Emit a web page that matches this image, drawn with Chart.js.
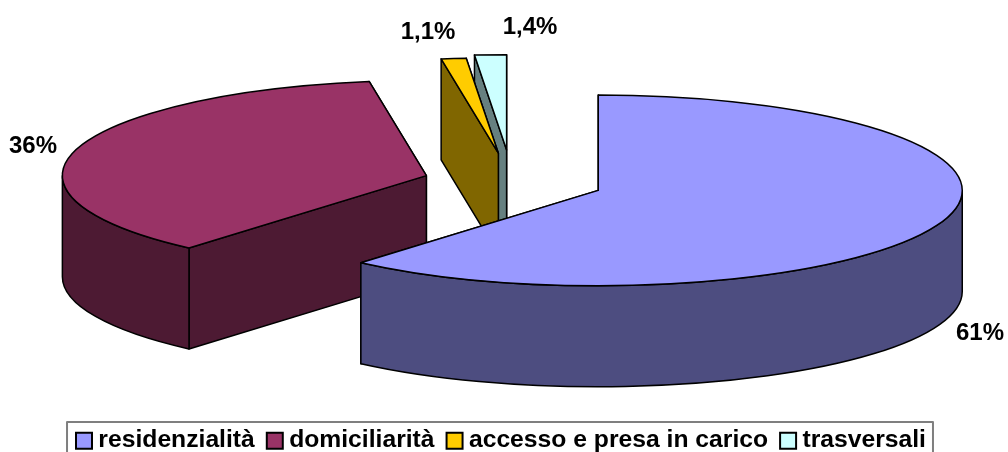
<!DOCTYPE html>
<html>
<head>
<meta charset="utf-8">
<style>
  html, body { margin: 0; padding: 0; background: #fff; }
  #wrap { width: 1008px; height: 452px; position: relative; overflow: hidden; }
  canvas { display: block; }
</style>
<script src="https://cdn.jsdelivr.net/npm/chart.js@4"></script>
</head>
<body>
<div id="wrap"><canvas id="pie" width="1008" height="452"></canvas></div>
<script>
// Distribution of the service areas
const categories = ['residenzialità', 'domiciliarità', 'accesso e presa in carico', 'trasversali'];
const shares = [61, 36, 1.1, 1.4];
const shareLabels = ['61%', '36%', '1,1%', '1,4%'];

const faceColors = ['#9999FF', '#993366', '#FFCC00', '#CCFFFF'];
const wallColors = ['#4D4D80', '#4D1A33', '#806600', '#668080'];

// Extruded-pie projection
const RADIUS = 364;
const SQUASH = 0.262;
const DEPTH = 101;
const CENTER = { x: 512, y: 182 };
const explode = [92, 89, 111, 122];
const paintOrder = [1, 3, 2, 0];
const OUTLINE = 1.5;
const labelAnchors = [[980, 333], [33, 146], [428, 32], [530, 27]];
const FONT = 'bold 24px "Liberation Sans", Arial, sans-serif';

function sliceOrigin(arc, i) {
  const mid = (arc.startAngle + arc.endAngle) / 2;
  return {
    x: CENTER.x + Math.cos(mid) * explode[i],
    y: CENTER.y + Math.sin(mid) * explode[i] * SQUASH
  };
}

function paintPath(ctx, fill) {
  ctx.fillStyle = fill;
  ctx.fill();
  ctx.lineWidth = OUTLINE;
  ctx.strokeStyle = '#000';
  ctx.lineJoin = 'round';
  ctx.stroke();
}

function cutWall(ctx, o, angle, r, color) {
  const px = o.x + Math.cos(angle) * r;
  const py = o.y + Math.sin(angle) * r * SQUASH;
  ctx.beginPath();
  ctx.moveTo(o.x, o.y);
  ctx.lineTo(px, py);
  ctx.lineTo(px, py + DEPTH);
  ctx.lineTo(o.x, o.y + DEPTH);
  ctx.closePath();
  paintPath(ctx, color);
}

function rimWall(ctx, o, start, end, r, color) {
  const lo = Math.max(start, 0);
  const hi = Math.min(end, Math.PI);
  if (hi <= lo) return;
  ctx.beginPath();
  ctx.ellipse(o.x, o.y, r, r * SQUASH, 0, lo, hi);
  ctx.ellipse(o.x, o.y + DEPTH, r, r * SQUASH, 0, hi, lo, true);
  ctx.closePath();
  paintPath(ctx, color);
}

const extrudedPie = {
  id: 'extrudedPie',
  beforeDatasetsDraw(chart) {
    const ctx = chart.ctx;
    const arcs = chart.getDatasetMeta(0).data;
    paintOrder.forEach(i => {
      const arc = arcs[i];
      const r = arc.outerRadius;
      const o = sliceOrigin(arc, i);
      cutWall(ctx, o, arc.endAngle, r, wallColors[i]);
      cutWall(ctx, o, arc.startAngle, r, wallColors[i]);
      rimWall(ctx, o, arc.startAngle, arc.endAngle, r, wallColors[i]);

      // Top face: the library's own arc, flattened onto the tilted plane
      ctx.save();
      ctx.translate(o.x, o.y);
      ctx.scale(1, SQUASH);
      ctx.translate(-arc.x, -arc.y);
      arc.draw(ctx);
      ctx.restore();

      ctx.beginPath();
      ctx.moveTo(o.x, o.y);
      ctx.ellipse(o.x, o.y, r, r * SQUASH, 0, arc.startAngle, arc.endAngle);
      ctx.closePath();
      ctx.lineWidth = OUTLINE;
      ctx.strokeStyle = '#000';
      ctx.lineJoin = 'round';
      ctx.stroke();
    });

    ctx.save();
    ctx.font = FONT;
    ctx.fillStyle = '#000';
    ctx.textAlign = 'center';
    ctx.textBaseline = 'middle';
    shareLabels.forEach((text, i) => ctx.fillText(text, labelAnchors[i][0], labelAnchors[i][1]));
    ctx.restore();
    return false;
  },
  afterDraw(chart) {
    const ctx = chart.ctx;
    const boxes = chart.legend.legendHitBoxes;
    const first = boxes[0];
    const last = boxes[boxes.length - 1];
    ctx.save();
    ctx.strokeStyle = '#7f7f7f';
    ctx.lineWidth = 2;
    ctx.strokeRect(first.left - 15, 422, last.left + last.width - first.left + 22, 40);
    ctx.restore();
  }
};

new Chart(document.getElementById('pie'), {
  type: 'pie',
  data: {
    labels: categories,
    datasets: [{
      data: shares,
      backgroundColor: faceColors,
      borderWidth: 0
    }]
  },
  options: {
    responsive: false,
    animation: false,
    radius: RADIUS,
    layout: { padding: { bottom: -11 } },
    plugins: {
      tooltip: { enabled: false },
      legend: {
        position: 'bottom',
        labels: {
          font: { family: '"Liberation Sans", Arial, sans-serif', size: 24.7, weight: 'bold' },
          color: '#000',
          usePointStyle: true,
          boxWidth: 4,
          boxHeight: 16,
          padding: 18,
          generateLabels(chart) {
            return chart.data.labels.map((text, i) => ({
              text,
              fillStyle: faceColors[i],
              strokeStyle: '#000',
              lineWidth: 2,
              pointStyle: 'rect',
              hidden: false,
              index: i
            }));
          }
        }
      }
    }
  },
  plugins: [extrudedPie]
});
</script>
</body>
</html>
